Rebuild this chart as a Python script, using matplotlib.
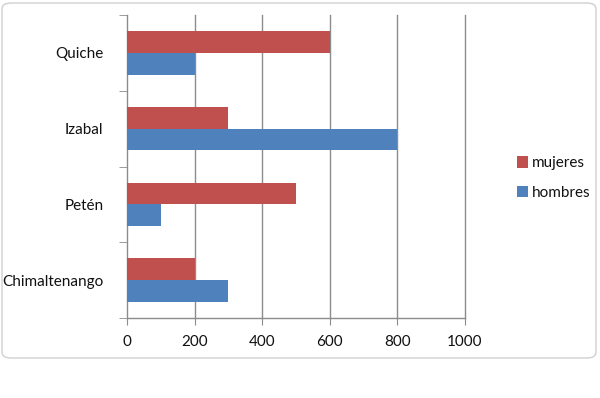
import numpy as np
import matplotlib.pyplot as plt
from matplotlib.patches import FancyBboxPatch

# data
departamentos = ["Chimaltenango", "Petén", "Izabal", "Quiche"]
mujeres = [200, 500, 300, 600]
hombres = [300, 100, 800, 200]
xticks = [0, 200, 400, 600, 800, 1000]

red = "#C0504D"
blue = "#4F81BD"
grid_col = "#8C8C8C"

plt.rcParams['font.family'] = ['Lato', 'DejaVu Sans']
plt.rcParams['text.color'] = '#111111'

fig = plt.figure(figsize=(6, 3.98), dpi=100)
ax = fig.add_axes([127 / 600, 1 - 318 / 398, (465 - 127) / 600, (318 - 15) / 398])

# rounded frame around the chart area
frame = FancyBboxPatch((2 / 600, 1 - 358 / 398), 594 / 600, 355 / 398,
                       boxstyle="round,pad=0,rounding_size=0.015",
                       transform=fig.transFigure, facecolor="none",
                       edgecolor="#D0D0D0", linewidth=1.0)
fig.patches.append(frame)

y = np.arange(len(departamentos))
h = 1 / 3.5
ax.barh(y + h / 2, mujeres, height=h, color=red, label="mujeres", zorder=3)
ax.barh(y - h / 2, hombres, height=h, color=blue, label="hombres", zorder=3)

ax.set_xlim(0, 1000)
ax.set_ylim(-0.5, len(departamentos) - 0.5)
ax.set_xticks(xticks)
ax.set_xticklabels([str(v) for v in xticks], fontsize=11)
ax.tick_params(axis='x', length=5, color=grid_col, pad=7, labelcolor='#111111')

ax.set_yticks(y)
ax.set_yticklabels(departamentos, fontsize=11)
ax.tick_params(axis='y', which='major', length=0, pad=17, labelcolor='#111111')
ax.set_yticks(np.arange(-0.5, len(departamentos)), minor=True)
ax.tick_params(axis='y', which='minor', length=6, color=grid_col)

for v in xticks[1:]:
    ax.axvline(v, color=grid_col, linewidth=1.0, zorder=1, clip_on=False)

for s in ['top', 'right']:
    ax.spines[s].set_visible(False)
for s in ['left', 'bottom']:
    ax.spines[s].set_color(grid_col)
    ax.spines[s].set_linewidth(1.0)

fig.legend(loc='center left', bbox_to_anchor=(503 / 600, 1 - 178 / 398),
           frameon=False, fontsize=11, handlelength=0.75, handleheight=0.75,
           handletextpad=0.25, labelspacing=1.0)

plt.savefig("out.png", dpi=100)
